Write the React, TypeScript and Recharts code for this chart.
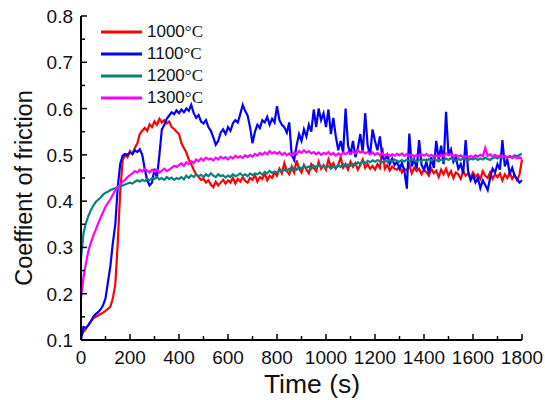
import * as React from "react";
import { LineChart, Line, XAxis, YAxis, Legend } from "recharts";

// sampled every 10 s, 0..1800
const TIME = Array.from({ length: 181 }, (_, i) => i * 10);

const SERIES_NAMES = ["1000°C", "1100°C", "1200°C", "1300°C"];
const COLORS = ["#ff0000", "#0000ff", "#0b8080", "#ff00ff"];

const X_TICKS = [0, 100, 200, 300, 400, 500, 600, 700, 800, 900, 1000, 1100, 1200, 1300, 1400, 1500, 1600, 1700, 1800];
const Y_TICKS = [0.1, 0.15, 0.2, 0.25, 0.3, 0.35, 0.4, 0.45, 0.5, 0.55, 0.6, 0.65, 0.7, 0.75, 0.8];

const T1000 = [
  0.111, 0.118, 0.124, 0.132, 0.140, 0.147, 0.150, 0.153, 0.156, 0.159,
  0.163, 0.167, 0.172, 0.190, 0.220, 0.310, 0.420, 0.488, 0.500, 0.495,
  0.508, 0.502, 0.515, 0.525, 0.545, 0.552, 0.558, 0.552, 0.566, 0.560,
  0.572, 0.565, 0.578, 0.570, 0.575, 0.568, 0.572, 0.560, 0.556, 0.550,
  0.545, 0.525, 0.515, 0.505, 0.490, 0.480, 0.468, 0.458, 0.452, 0.446,
  0.448, 0.440, 0.445, 0.436, 0.430, 0.442, 0.434, 0.440, 0.446, 0.438,
  0.445, 0.440, 0.450, 0.438, 0.448, 0.442, 0.452, 0.444, 0.440, 0.450,
  0.446, 0.456, 0.442, 0.452, 0.448, 0.460, 0.445, 0.455, 0.450, 0.462,
  0.455, 0.470, 0.460, 0.482, 0.465, 0.458, 0.475, 0.462, 0.488, 0.470,
  0.462, 0.478, 0.468, 0.460, 0.480, 0.472, 0.465, 0.485, 0.470, 0.478,
  0.468, 0.490, 0.475, 0.482, 0.470, 0.478, 0.495, 0.472, 0.480, 0.468,
  0.485, 0.474, 0.482, 0.468, 0.478, 0.490, 0.472, 0.480, 0.470, 0.476,
  0.468, 0.480, 0.472, 0.515, 0.470, 0.478, 0.466, 0.475, 0.470, 0.468,
  0.475, 0.462, 0.470, 0.466, 0.478, 0.460, 0.472, 0.465, 0.470, 0.458,
  0.468, 0.462, 0.455, 0.470, 0.460, 0.466, 0.452, 0.468, 0.458, 0.470,
  0.455, 0.465, 0.450, 0.462, 0.458, 0.448, 0.465, 0.455, 0.460, 0.450,
  0.462, 0.452, 0.458, 0.448, 0.465, 0.455, 0.450, 0.462, 0.448, 0.458,
  0.452, 0.460, 0.445, 0.458, 0.450, 0.462, 0.448, 0.456, 0.445, 0.458,
  0.490,
];

const T1100 = [
  0.100, 0.128, 0.126, 0.132, 0.140, 0.150, 0.156, 0.160, 0.166, 0.175,
  0.190, 0.225, 0.260, 0.310, 0.350, 0.430, 0.480, 0.498, 0.502, 0.500,
  0.505, 0.502, 0.510, 0.506, 0.512, 0.500, 0.470, 0.445, 0.434, 0.440,
  0.470, 0.450, 0.500, 0.555, 0.565, 0.578, 0.585, 0.592, 0.588, 0.596,
  0.590, 0.598, 0.592, 0.600, 0.595, 0.608, 0.590, 0.580, 0.586, 0.572,
  0.568, 0.575, 0.560, 0.552, 0.538, 0.522, 0.530, 0.548, 0.555, 0.545,
  0.560, 0.552, 0.568, 0.575, 0.570, 0.588, 0.608, 0.595, 0.585, 0.560,
  0.525, 0.550, 0.565, 0.558, 0.575, 0.570, 0.582, 0.565, 0.578, 0.570,
  0.605, 0.575, 0.565, 0.560, 0.548, 0.570, 0.500, 0.489, 0.520, 0.545,
  0.530, 0.555, 0.540, 0.565, 0.550, 0.598, 0.560, 0.600, 0.575, 0.590,
  0.560, 0.598, 0.545, 0.580, 0.540, 0.510, 0.530, 0.505, 0.600, 0.520,
  0.500, 0.530, 0.495, 0.515, 0.545, 0.505, 0.590, 0.520, 0.500, 0.555,
  0.530, 0.510, 0.540, 0.495, 0.488, 0.500, 0.480, 0.492, 0.478, 0.485,
  0.470, 0.482, 0.465, 0.427, 0.546, 0.475, 0.490, 0.470, 0.532, 0.478,
  0.468, 0.485, 0.460, 0.495, 0.472, 0.530, 0.490, 0.520, 0.480, 0.593,
  0.500, 0.512, 0.485, 0.495, 0.470, 0.480, 0.460, 0.532, 0.465, 0.445,
  0.455, 0.440, 0.450, 0.428, 0.445, 0.435, 0.424, 0.450, 0.470, 0.462,
  0.480, 0.468, 0.532, 0.475, 0.490, 0.460, 0.472, 0.455, 0.448, 0.440,
  0.445,
];

const T1200 = [
  0.275, 0.330, 0.352, 0.368, 0.380, 0.390, 0.398, 0.403, 0.408, 0.414,
  0.418, 0.420, 0.424, 0.426, 0.428, 0.430, 0.432, 0.434, 0.436, 0.438,
  0.440, 0.438, 0.442, 0.445, 0.442, 0.446, 0.443, 0.448, 0.445, 0.450,
  0.448, 0.452, 0.447, 0.450, 0.446, 0.452, 0.448, 0.451, 0.446, 0.450,
  0.448, 0.452, 0.447, 0.455, 0.450, 0.456, 0.452, 0.458, 0.454, 0.457,
  0.452, 0.458, 0.454, 0.460, 0.455, 0.452, 0.458, 0.454, 0.456, 0.451,
  0.455, 0.452, 0.458, 0.454, 0.456, 0.460, 0.455, 0.458, 0.454, 0.460,
  0.456, 0.460, 0.458, 0.462, 0.457, 0.463, 0.460, 0.465, 0.461, 0.464,
  0.462, 0.466, 0.464, 0.468, 0.465, 0.470, 0.466, 0.472, 0.468, 0.474,
  0.470, 0.476, 0.472, 0.475, 0.470, 0.477, 0.473, 0.478, 0.474, 0.477,
  0.472, 0.476, 0.470, 0.475, 0.472, 0.478, 0.474, 0.480, 0.476, 0.479,
  0.476, 0.481, 0.478, 0.484, 0.480, 0.486, 0.482, 0.487, 0.484, 0.488,
  0.485, 0.489, 0.486, 0.484, 0.488, 0.485, 0.489, 0.486, 0.490, 0.487,
  0.485, 0.489, 0.486, 0.490, 0.487, 0.491, 0.488, 0.485, 0.489, 0.487,
  0.490, 0.487, 0.491, 0.488, 0.492, 0.489, 0.486, 0.490, 0.488, 0.492,
  0.489, 0.493, 0.490, 0.487, 0.491, 0.489, 0.493, 0.490, 0.488, 0.492,
  0.490, 0.493, 0.489, 0.492, 0.490, 0.494, 0.491, 0.489, 0.493, 0.495,
  0.492, 0.496, 0.493, 0.497, 0.494, 0.498, 0.495, 0.499, 0.497, 0.500,
  0.502,
];

const T1300 = [
  0.190, 0.235, 0.265, 0.292, 0.310, 0.325, 0.338, 0.352, 0.364, 0.376,
  0.388, 0.396, 0.404, 0.414, 0.424, 0.430, 0.436, 0.442, 0.446, 0.452,
  0.456, 0.460, 0.465, 0.462, 0.468, 0.464, 0.470, 0.466, 0.462, 0.468,
  0.464, 0.468, 0.462, 0.466, 0.470, 0.465, 0.468, 0.472, 0.476, 0.474,
  0.478, 0.482, 0.476, 0.484, 0.480, 0.486, 0.482, 0.490, 0.486, 0.492,
  0.488, 0.494, 0.490, 0.492, 0.488, 0.494, 0.490, 0.496, 0.492, 0.495,
  0.490, 0.496, 0.492, 0.498, 0.494, 0.497, 0.493, 0.499, 0.495, 0.500,
  0.496, 0.502, 0.498, 0.504, 0.500, 0.505, 0.501, 0.508, 0.503, 0.506,
  0.502, 0.506, 0.500, 0.504, 0.499, 0.503, 0.498, 0.505, 0.501, 0.508,
  0.504, 0.510, 0.505, 0.508, 0.503, 0.506, 0.501, 0.505, 0.500, 0.504,
  0.502, 0.506, 0.500, 0.504, 0.498, 0.503, 0.499, 0.505, 0.501, 0.506,
  0.502, 0.507, 0.503, 0.510, 0.505, 0.508, 0.503, 0.506, 0.501, 0.505,
  0.500, 0.504, 0.499, 0.503, 0.498, 0.502, 0.497, 0.501, 0.498, 0.502,
  0.499, 0.503, 0.498, 0.502, 0.497, 0.501, 0.496, 0.500, 0.497, 0.501,
  0.498, 0.502, 0.497, 0.500, 0.496, 0.499, 0.495, 0.500, 0.497, 0.503,
  0.499, 0.502, 0.497, 0.500, 0.496, 0.499, 0.495, 0.498, 0.494, 0.498,
  0.495, 0.499, 0.496, 0.500, 0.497, 0.515, 0.498, 0.501, 0.497, 0.500,
  0.496, 0.499, 0.495, 0.498, 0.494, 0.497, 0.493, 0.496, 0.492, 0.495,
  0.491,
];

const SERIES = [T1000, T1100, T1200, T1300];
const KEYS = ["s1000", "s1100", "s1200", "s1300"];

const data = TIME.map((t, i) => {
  const row: Record<string, number> = { t };
  KEYS.forEach((k, j) => {
    row[k] = SERIES[j][i];
  });
  return row;
});

const FONT = '"Liberation Sans", Arial, sans-serif';

function XTick({ x, y, payload }: any) {
  const major = payload.value % 200 === 0;
  return (
    <g>
      <line x1={x} y1={y} x2={x} y2={y - (major ? 6 : 4)} stroke="#000" strokeWidth={1.5} />
      {major && (
        <text x={x} y={y + 24} textAnchor="middle" fontSize={19} fontFamily={FONT} fill="#111">
          {payload.value}
        </text>
      )}
    </g>
  );
}

function YTick({ x, y, payload }: any) {
  const v = payload.value;
  const major = Math.abs(v * 10 - Math.round(v * 10)) < 1e-6;
  return (
    <g>
      <line x1={x} y1={y} x2={x + (major ? 6 : 4)} y2={y} stroke="#000" strokeWidth={1.5} />
      {major && (
        <text x={x - 8} y={y + 7} textAnchor="end" fontSize={19} fontFamily={FONT} fill="#111">
          {v.toFixed(1)}
        </text>
      )}
    </g>
  );
}

function LegendBox({ payload }: any) {
  return (
    <div style={{ fontFamily: FONT, fontSize: 17, color: "#111" }}>
      {(payload || []).map((p: any) => (
        <div key={p.value} style={{ display: "flex", alignItems: "center", height: 22 }}>
          <svg width={41} height={4} style={{ display: "block" }}>
            <line x1={0} y1={2} x2={41} y2={2} stroke={p.color} strokeWidth={3} />
          </svg>
          <span style={{ marginLeft: 5, whiteSpace: "nowrap" }}>
            {String(p.value).slice(0, -2)}
            <span style={{ fontFamily: '"Liberation Serif", "Times New Roman", serif' }}>°C</span>
          </span>
        </div>
      ))}
    </div>
  );
}

export default function App() {
  return (
    <div style={{ position: "absolute", left: 0, top: 0, width: 545, height: 400, background: "#fff" }}>
      <LineChart width={545} height={400} data={data} margin={{ top: 16, right: 23, bottom: 0, left: 0 }}>
        <XAxis
          dataKey="t"
          type="number"
          domain={[0, 1800]}
          ticks={X_TICKS}
          interval={0}
          height={60}
          tickLine={false}
          tickSize={0}
          tickMargin={0}
          tick={<XTick />}
          axisLine={{ stroke: "#000", strokeWidth: 2 }}
          label={() => (
            <text x={312} y={393} textAnchor="middle" fontSize={26.5} fontFamily={FONT} fill="#111">
              Time (s)
            </text>
          )}
        />
        <XAxis
          xAxisId="top"
          orientation="top"
          dataKey="t"
          type="number"
          domain={[0, 1800]}
          height={0}
          tick={false}
          tickLine={false}
          axisLine={{ stroke: "#000", strokeWidth: 2 }}
        />
        <YAxis
          type="number"
          domain={[0.1, 0.8]}
          ticks={Y_TICKS}
          interval={0}
          width={81}
          tickLine={false}
          tickSize={0}
          tickMargin={0}
          tick={<YTick />}
          axisLine={{ stroke: "#000", strokeWidth: 2 }}
          label={() => (
            <text
              x={32}
              y={188}
              textAnchor="middle"
              fontSize={23.5}
              fontFamily={FONT}
              fill="#111"
              transform="rotate(-90, 32, 188)"
            >
              Coeffient of friction
            </text>
          )}
        />
        <YAxis
          yAxisId="right"
          orientation="right"
          type="number"
          domain={[0.1, 0.8]}
          width={0}
          tick={false}
          tickLine={false}
          axisLine={{ stroke: "#000", strokeWidth: 2 }}
        />
        <Legend
          layout="vertical"
          align="center"
          verticalAlign="middle"
          content={<LegendBox />}
          wrapperStyle={{ left: 101, top: 21, width: 140, height: 90 }}
        />
        {KEYS.map((k, j) => (
          <Line
            key={k}
            dataKey={k}
            name={SERIES_NAMES[j]}
            stroke={COLORS[j]}
            strokeWidth={2.2}
            dot={false}
            activeDot={false}
            isAnimationActive={false}
          />
        ))}
      </LineChart>
    </div>
  );
}
